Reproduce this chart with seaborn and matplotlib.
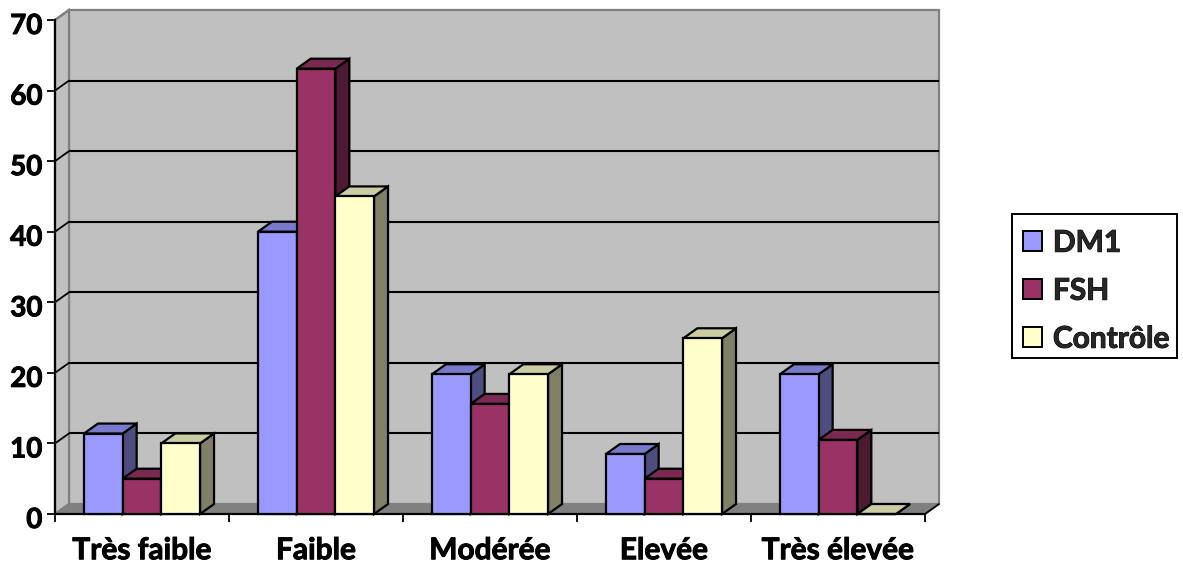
import matplotlib
matplotlib.use("Agg")
import matplotlib.pyplot as plt
import matplotlib.colors as mcolors
import matplotlib.patheffects as pe
from matplotlib.transforms import ScaledTranslation
from matplotlib.patches import Polygon, Rectangle
import pandas as pd
import seaborn as sns

categories = ["Très faible", "Faible", "Modérée", "Elevée", "Très élevée"]
dm1 = [11.4, 40, 19.8, 8.5, 19.8]
fsh = [5, 63.1, 15.6, 5, 10.5]
controle = [10, 45, 19.8, 24.9, 0]
series_names = ["DM1", "FSH", "Contrôle"]
series_colors = ["#9999FF", "#993366", "#FFFFCC"]
y_ticks = [0, 10, 20, 30, 40, 50, 60, 70]

W, H = 1183, 566
sns.set_theme(style="white")
plt.rcParams["font.family"] = ["Lato", "DejaVu Sans"]
plt.rcParams["font.weight"] = "bold"

fig = plt.figure(figsize=(W / 100, H / 100), dpi=100)
L, R, T, B = 55, 925, 20, 514
ax = fig.add_axes([L / W, 1 - B / H, (R - L) / W, (B - T) / H])

df = pd.DataFrame({
    "Catégorie": categories * 3,
    "Série": sum([[n] * len(categories) for n in series_names], []),
    "Valeur": dm1 + fsh + controle,
})
sns.barplot(data=df, x="Catégorie", y="Valeur", hue="Série", hue_order=series_names,
            order=categories, palette=series_colors, saturation=1, width=0.667, gap=0,
            edgecolor="black", linewidth=1.6, ax=ax, zorder=3)

x0, x1 = -0.5, len(categories) - 0.5
y0, y1 = 0, 70
ax.set_xlim(x0, x1)
ax.set_ylim(y0, y1)
ax.set_facecolor("none")

# depth of the 3D box, expressed in data units
dx = 14 / ((R - L) / (x1 - x0))
dy = 10 / ((B - T) / (y1 - y0))

WALL, EDGE = "#C0C0C0", "#808080"
ax.add_patch(Rectangle((x0 + dx, y0 + dy), x1 - x0, y1 - y0, fc=WALL, ec=EDGE, lw=1.6,
                       zorder=0.5, clip_on=False))
ax.add_patch(Polygon([(x0, y0), (x0, y1), (x0 + dx, y1 + dy), (x0 + dx, y0 + dy)],
                     fc=WALL, ec=EDGE, lw=1.6, zorder=0.6, clip_on=False))
ax.add_patch(Polygon([(x0, y0), (x1, y0), (x1 + dx, y0 + dy), (x0 + dx, y0 + dy)],
                     fc=EDGE, ec=EDGE, lw=1.2, zorder=0.7, clip_on=False))

for t in y_ticks:
    if t > 0 and t < y1:
        ax.plot([x0 + dx, x1 + dx], [t + dy, t + dy], color="black", lw=1.5, zorder=1,
                clip_on=False, solid_capstyle="butt")
    if t < y1:
        ax.plot([x0, x0 + dx], [t, t + dy], color="black" if t else EDGE, lw=1.3, zorder=1.1,
                clip_on=False)
ax.plot([x0, x0 + dx], [y1, y1 + dy], color=EDGE, lw=1.6, zorder=1.1, clip_on=False)
ax.plot([x1, x1 + dx], [y0, y0 + dy], color="black", lw=1.3, zorder=2.6, clip_on=False)


def shade(color, f):
    r, g, b = mcolors.to_rgb(color)
    return (r * f, g * f, b * f)


# extrude every bar that the library drew
z = 3.0
for i in range(len(categories)):
    for container in ax.containers:
        p = container.patches[i]
        xa, w, h = p.get_x(), p.get_width(), p.get_height()
        color = p.get_facecolor()
        z += 0.1
        ax.add_patch(Polygon([(xa + w, 0), (xa + w + dx, dy), (xa + w + dx, h + dy), (xa + w, h)],
                             fc=shade(color, 0.5), ec="black", lw=1.6, zorder=z,
                             clip_on=False, joinstyle="miter"))
        ax.add_patch(Polygon([(xa, h), (xa + dx, h + dy), (xa + w + dx, h + dy), (xa + w, h)],
                             fc=shade(color, 0.8), ec="black", lw=1.6, zorder=z,
                             clip_on=False, joinstyle="miter"))
        p.set_zorder(z + 0.01)
        p.set_clip_on(False)

ax.set_xlabel("")
ax.set_ylabel("")
sns.despine(ax=ax, top=True, right=True)
for s in ("left", "bottom"):
    ax.spines[s].set_color("black")
    ax.spines[s].set_linewidth(1.6)
    ax.spines[s].set_zorder(2.5)

heavy = [pe.withStroke(linewidth=0.7, foreground="black")]

ax.set_yticks(y_ticks)
ax.tick_params(axis="y", which="major", left=True, length=6, width=1.3, color="black",
               labelsize=20, pad=3, labelcolor="black")
ax.set_xticks(range(len(categories)))
ax.set_xticklabels(categories)
ax.set_xticks([k - 0.5 for k in range(len(categories) + 1)], minor=True)
ax.tick_params(axis="x", which="major", bottom=False, labelsize=21.5, pad=10, labelcolor="black")
ax.tick_params(axis="x", which="minor", bottom=True, length=6, width=1.3, color="black")
shift = ScaledTranslation(0, -3.5 / 100, fig.dpi_scale_trans)
for lab in ax.get_yticklabels():
    lab.set_transform(lab.get_transform() + shift)
for lab in ax.get_xticklabels() + ax.get_yticklabels():
    lab.set_fontweight("bold")
    lab.set_path_effects(heavy)

# legend frame drawn separately, beneath the axes, so the entries can sit where the reference has them
fig.add_artist(Rectangle((1012 / W, 1 - 358 / H), 165 / W, 144 / H, transform=fig.transFigure,
                         fc="white", ec="black", lw=1.4, zorder=-1))
handles, labels = ax.get_legend_handles_labels()
leg = ax.legend(handles, labels, loc="upper left",
                bbox_to_anchor=(1012 / W, 1 - 218 / H), bbox_transform=fig.transFigure,
                fontsize=21.5, frameon=False, borderaxespad=0, handlelength=0.64,
                handleheight=0.64, handletextpad=0.37, labelspacing=0.67, borderpad=0.36,
                title=None)
leg.set_zorder(5)
for h in leg.legend_handles:
    h.set_edgecolor("black")
    h.set_linewidth(1.4)
for t in leg.get_texts():
    t.set_fontweight("bold")
    t.set_path_effects(heavy)

fig.savefig("out.png", dpi=100, facecolor="white")
